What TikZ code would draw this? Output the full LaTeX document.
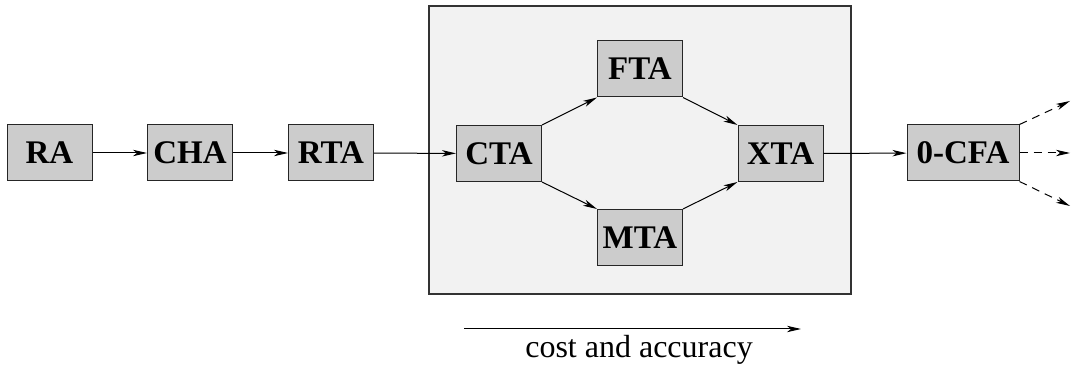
\documentclass[tikz,border=0pt]{standalone}
\usepackage{fontspec}
\setmainfont{Liberation Serif}
\usetikzlibrary{arrows.meta}
\definecolor{boxgray}{HTML}{CCCCCC}
\definecolor{panel}{HTML}{F2F2F2}
\definecolor{panelline}{HTML}{333333}
\begin{document}
\begin{tikzpicture}[x=0.5pt,y=-0.5pt,
  stagebox/.style={draw=black!85,fill=boxgray,line width=0.5pt,minimum width=42.5pt,minimum height=28pt,inner sep=0pt,
    font=\fontsize{16.5}{18}\selectfont\bfseries},
  widebox/.style={stagebox,minimum width=56pt},
  arr/.style={line width=0.5pt,-{Stealth[length=7pt,width=3.2pt,inset=2pt]}},
  darr/.style={arr,dash pattern=on 4pt off 3pt}]
\useasboundingbox (0,0) rectangle (1071,367);
\draw[panelline,fill=panel,line width=0.8pt] (429,6) rectangle (851,294);
\node[stagebox] (ra) at (49.5,153) {RA};
\node[stagebox] (cha) at (190,153) {CHA};
\node[stagebox] (rta) at (331,153) {RTA};
\node[stagebox] (cta) at (499,153.5) {CTA};
\node[stagebox] (fta) at (640,69) {FTA};
\node[stagebox] (mta) at (640,237.5) {MTA};
\node[stagebox] (xta) at (780.5,153.5) {XTA};
\node[widebox] (cfa) at (963,153) {0-CFA};
\coordinate (o1) at (1070,101);
\coordinate (o2) at (1070,153);
\coordinate (o3) at (1070,206);
\draw[arr] (ra) -- (cha);
\draw[arr] (cha) -- (rta);
\draw[arr] (rta) -- (cta);
\draw[arr] (cta.north east) -- (fta.south west);
\draw[arr] (cta.south east) -- (mta.north west);
\draw[arr] (fta.south east) -- (xta.north west);
\draw[arr] (mta.north east) -- (xta.south west);
\draw[arr] (xta) -- (cfa);
\draw[darr] (cfa.north east) -- (o1);
\draw[darr] (cfa) -- (o2);
\draw[darr] (cfa.south east) -- (o3);
\coordinate (c1) at (464,329);
\coordinate (c2) at (801,329);
\draw[arr] (c1) -- (c2);
\node[font=\fontsize{16}{18}\selectfont,anchor=base] (cap) at (639,358) {cost and accuracy};
\end{tikzpicture}
\end{document}
